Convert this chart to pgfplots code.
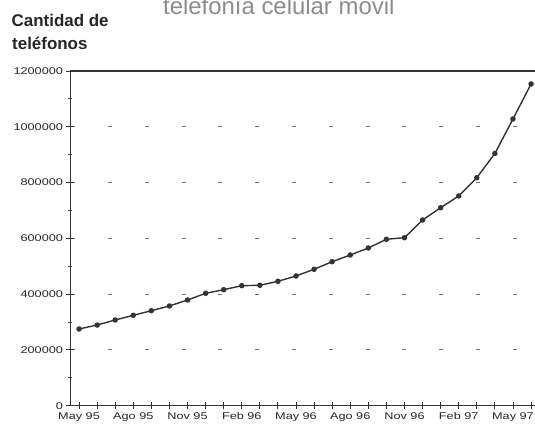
\documentclass[border=0pt]{standalone}
\usepackage{fontspec}
\setmainfont{Liberation Sans}
\newfontfamily\tickfont{Liberation Sans}[FakeStretch=1.3]
\usepackage{pgfplots}
\pgfplotsset{compat=1.18}
\begin{document}
\begin{tikzpicture}
\useasboundingbox (0,0) rectangle (535bp,426bp);
\fill[white] (0,0) rectangle (535bp,426bp);
\node[anchor=base west, inner sep=0, text=black!45, font=\fontsize{24}{24}\selectfont] at (163bp,411bp) {telefonía celular móvil};
\node[anchor=base west, inner sep=0, text=black!85, font=\bfseries\fontsize{17}{17}\selectfont] at (11.5bp,399.3bp) {Cantidad de};
\node[anchor=base west, inner sep=0, text=black!85, font=\bfseries\fontsize{17}{17}\selectfont] at (12bp,376.7bp) {teléfonos};
\begin{axis}[
  at={(70bp,20.3bp)}, anchor=south west, scale only axis,
  width=471.9bp, height=334.7bp,
  xmin=-0.5, xmax=25.6, ymin=0, ymax=1200000,
  axis x line*=bottom, axis y line*=left,
  axis line style={black!80, line width=0.9bp},
  xtick={0,...,25},
  xticklabels={May 95,,,Ago 95,,,Nov 95,,,Feb 96,,,May 96,,,Ago 96,,,Nov 96,,,Feb 97,,,May 97,},
  ytick={0,200000,400000,600000,800000,1000000,1200000},
  yticklabels={0,200000,400000,600000,800000,1000000,1200000},
  scaled y ticks=false,
  minor ytick={100000,300000,500000,700000,900000,1100000},
  tick align=center,
  major tick length=7bp, minor tick length=3bp,
  every tick/.style={black!80, line width=0.9bp},
  minor tick style={black!70, line width=0.8bp},
  ymajorgrids,
  major grid style={black!55, line width=1.1bp, dash pattern=on 4bp off 32.8bp, dash phase=35.6bp},
  /pgf/number format/assume math mode=true,
  tick label style={font=\tickfont\fontsize{9.8}{10}\selectfont, text=black!85},
  yticklabel style={anchor=east, xshift=0bp},
  xticklabel style={anchor=north},
]
\addplot[color=black!80, line width=1.4bp, mark=*, mark size=2bp, mark options={fill=black!80, solid}] coordinates {
(0,275000) (1,289300) (2,307300) (3,324100) (4,340600) (5,357500)
(6,379000) (7,403000) (8,415900) (9,430300) (10,431700) (11,446000)
(12,465000) (13,489100) (14,516300) (15,540300) (16,565400) (17,596600)
(18,602400) (19,665800) (20,709900) (21,751900) (22,817500) (23,904300)
(24,1028000) (25,1153400)
};
\draw[line width=1.3bp, black!80] (rel axis cs:0,1) -- (rel axis cs:1,1);
\end{axis}
\end{tikzpicture}
\end{document}
